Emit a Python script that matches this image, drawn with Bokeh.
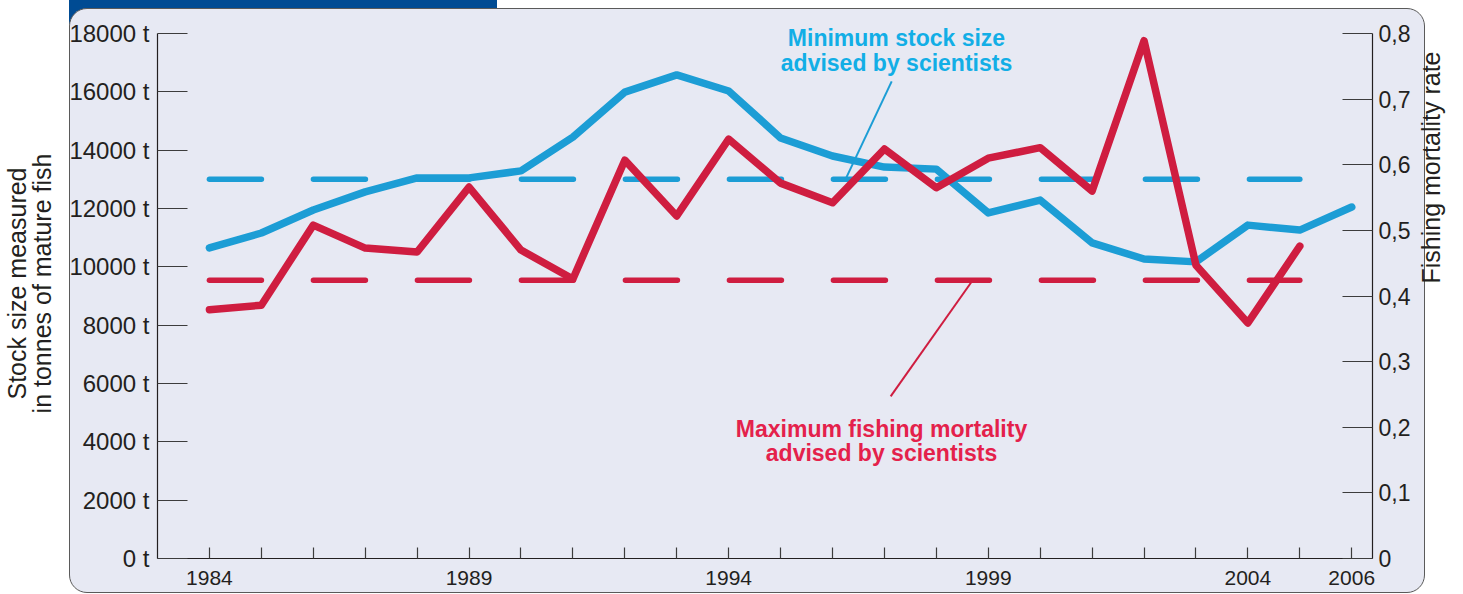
import math
from bokeh.plotting import figure
from bokeh.models import Range1d, LinearAxis, FixedTicker, Label, InlineStyleSheet
from bokeh.embed import file_html
from bokeh.resources import INLINE

# ---------------- data ----------------
years = list(range(1984, 2007))
stock_size = [10650, 11160, 11950, 12570, 13050, 13050, 13290, 14450, 15990, 16580,
              16030, 14420, 13800, 13420, 13350, 11850, 12290, 10820, 10270, 10170,
              11430, 11260, 12050]
mort_years = list(range(1984, 2006))
fishing_mortality = [0.379, 0.386, 0.508, 0.473, 0.467, 0.566, 0.470, 0.426, 0.607, 0.522,
                     0.639, 0.572, 0.542, 0.624, 0.565, 0.610, 0.626, 0.560, 0.789, 0.447,
                     0.359, 0.476]
ref_years = [1984, 2005]
min_stock_advised = 13000
max_mortality_advised = 0.424

stock_ticks = [0, 2000, 4000, 6000, 8000, 10000, 12000, 14000, 16000, 18000]
stock_tick_labels = ["0 t", "2000 t", "4000 t", "6000 t", "8000 t", "10000 t",
                     "12000 t", "14000 t", "16000 t", "18000 t"]
mort_ticks = [0, 0.1, 0.2, 0.3, 0.4, 0.5, 0.6, 0.7, 0.8]
mort_tick_labels = ["0", "0,1", "0,2", "0,3", "0,4", "0,5", "0,6", "0,7", "0,8"]
year_labelled = [1984, 1989, 1994, 1999, 2004, 2006]

left_title = ["Stock size measured", "in tonnes of mature fish"]
right_title = "Fishing mortality rate"
blue_note = ["Minimum stock size", "advised by scientists"]
red_note = ["Maximum fishing mortality", "advised by scientists"]

# ---------------- style / layout ----------------
BLUE = "#1c9dd5"
BLUE_TXT = "#12aee6"
RED = "#cf1d40"
RED_TXT = "#e4214b"
INK = "#231f20"
PANEL = "#e7e9f3"
BAR = "#004b93"
FONT = "Liberation Sans"

W, H = 1463, 594
FL, FR, FT, FB = 157, 1372, 8, 558          # frame edges (px)
AXIS_TOP = 33                                # pixel of 18000 t / 0,8
STOCK_MAX, MORT_MAX = 18000, 0.8
scale = (FB - FT) / (FB - AXIS_TOP)          # extend ranges so frame reaches panel top

p = figure(width=W, height=H,
           x_range=Range1d(1983, 2006.4), y_range=Range1d(0, STOCK_MAX * scale),
           output_backend="svg", toolbar_location=None,
           x_axis_location=None, y_axis_location=None,
           min_border_left=FL, min_border_right=W - FR,
           min_border_top=FT, min_border_bottom=H - FB)
p.extra_y_ranges = {"mort": Range1d(0, MORT_MAX * scale)}
p.grid.visible = False
p.outline_line_color = None
p.background_fill_color = None
p.border_fill_color = None

css = f"""
:host {{ position: relative; isolation: isolate; }}
:host::before {{
  content: ""; position: absolute; left: 69px; top: 8px; width: 1356px; height: 585px;
  box-sizing: border-box; background: {PANEL}; border: 1.5px solid #5a5a5a;
  border-radius: 18px; z-index: -1;
}}
:host::after {{
  content: ""; position: absolute; left: 69px; top: 0px; width: 428px; height: 24px;
  background: {BAR}; z-index: -2;
}}
"""
p.stylesheets = [InlineStyleSheet(css=css)]


def style_axis(ax, tick_in, size, standoff):
    ax.axis_line_color = INK
    ax.axis_line_width = 1.2
    ax.major_tick_line_color = "#3c3c3c"
    ax.major_tick_line_width = 1.2
    ax.major_tick_in = tick_in
    ax.major_tick_out = 0
    ax.minor_tick_in = 0
    ax.minor_tick_out = 0
    ax.major_label_text_font = FONT
    ax.major_label_text_font_size = size
    ax.major_label_text_color = INK
    ax.major_label_standoff = standoff
    ax.axis_label_text_font = FONT
    ax.axis_label_text_font_size = "25px"
    ax.axis_label_text_font_style = "normal"
    ax.axis_label_text_color = INK

xaxis = LinearAxis(ticker=FixedTicker(ticks=years),
                   major_label_overrides={y: (str(y) if y in year_labelled else "") for y in years})
style_axis(xaxis, 11, "21px", 12)
p.add_layout(xaxis, "below")

yleft = LinearAxis(ticker=FixedTicker(ticks=stock_ticks), bounds=(0, STOCK_MAX),
                   major_label_overrides=dict(zip(stock_ticks, stock_tick_labels)))
style_axis(yleft, 30, "24px", 8)
yleft.axis_label = "\n".join(left_title)
yleft.axis_label_standoff = 10
yleft.axis_label_text_line_height = 0.9
p.add_layout(yleft, "left")

yright = LinearAxis(y_range_name="mort", ticker=FixedTicker(ticks=mort_ticks), bounds=(0, MORT_MAX),
                    major_label_overrides=dict(zip(mort_ticks, mort_tick_labels)))
style_axis(yright, 30, "23px", 6)
yright.axis_label = right_title
yright.axis_label_standoff = 18
if "axis_label_orientation" in LinearAxis.properties():
    yright.axis_label_orientation = math.pi / 2
p.add_layout(yright, "right")

# reference (advised) levels
p.line(ref_years, [min_stock_advised] * len(ref_years), line_color=BLUE, line_width=5.5,
       line_dash="52 52", line_cap="round")
p.line(ref_years, [max_mortality_advised] * len(ref_years), y_range_name="mort",
       line_color=RED, line_width=5.5, line_dash="52 52", line_cap="round")

# leader lines (annotation layout in data units)
p.segment(x0=[1997.14], y0=[16360], x1=[1996.25], y1=[min_stock_advised],
          line_color=BLUE, line_width=2)
p.segment(x0=[1997.12], y0=[5560], x1=[1998.70],
          y1=[max_mortality_advised / MORT_MAX * STOCK_MAX],
          line_color=RED, line_width=2)

# series
p.line(years, stock_size, line_color=BLUE, line_width=7.5, line_join="round", line_cap="round")
p.line(mort_years, fishing_mortality, y_range_name="mort", line_color=RED, line_width=7.5,
       line_join="round", line_cap="round")

# notes (canvas pixel positions)
for t, yc in zip(blue_note, [37, 62]):
    p.add_layout(Label(x=896, y=yc, x_units="canvas", y_units="canvas", text=t,
                       text_align="center", text_baseline="middle",
                       text_font=FONT, text_font_style="bold",
                       text_font_size="23px", text_color=BLUE_TXT))
for t, yc in zip(red_note, [428, 452]):
    p.add_layout(Label(x=881, y=yc, x_units="canvas", y_units="canvas", text=t,
                       text_align="center", text_baseline="middle",
                       text_font=FONT, text_font_style="bold",
                       text_font_size="23px", text_color=RED_TXT))

open("out.html", "w").write(file_html(p, INLINE))
